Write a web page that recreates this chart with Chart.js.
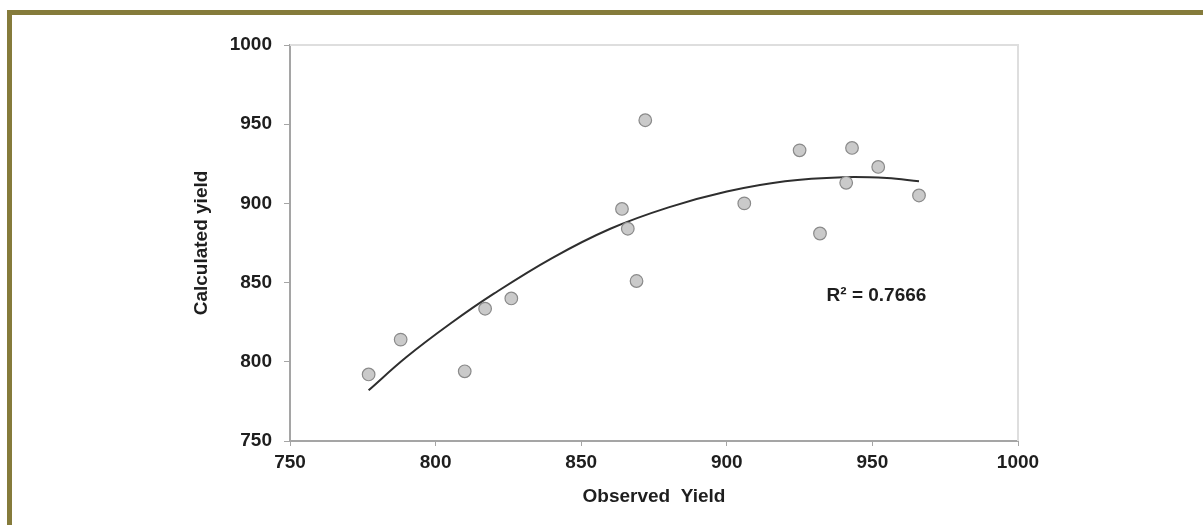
<!DOCTYPE html>
<html>
<head>
<meta charset="utf-8">
<script src="https://cdn.jsdelivr.net/npm/chart.js@4/dist/chart.umd.min.js"></script>
<style>
  html, body { margin: 0; padding: 0; background: #fff; }
  #wrap { position: relative; width: 1203px; height: 525px; overflow: hidden; }
  #frame {
    position: absolute; left: 7px; top: 10px; right: -10px; bottom: -10px;
    border-top: 5px solid #857b3b; border-left: 5px solid #857b3b;
  }
  canvas { position: absolute; left: 0; top: 0; }
</style>
</head>
<body>
<div id="wrap">
  <div id="frame"></div>
  <canvas id="grafico" width="1203" height="525"></canvas>
</div>
<script>
// observed vs calculated yield
const observado = [777, 788, 810, 817, 826, 864, 866, 869, 872, 906, 925, 932, 941, 943, 952, 966];
const calculado = [792, 814, 794, 833.5, 840, 896.5, 884, 851, 952.5, 900, 933.5, 881, 913, 935, 923, 905];

// polynomial trendline, sampled from the figure
const tendX = [777, 790, 805, 820, 840, 860, 880, 900, 920, 940, 955, 966];
const tendY = [782, 803, 824, 843, 865.5, 884, 897.5, 907.5, 914, 916.5, 916, 914];

const ticksEje = [750, 800, 850, 900, 950, 1000];
const etiquetaR2 = "R² = 0.7666";

const fuente = "'Liberation Sans', Arial, Helvetica, sans-serif";
const tinta = "#1e1e1e";

// light top/right border of the plot box + the R² text
const marco = {
  id: "marco",
  afterDraw(chart) {
    const { ctx, chartArea: a, scales } = chart;
    ctx.save();
    ctx.strokeStyle = "#dedede";
    ctx.lineWidth = 2;
    ctx.beginPath();
    ctx.moveTo(a.left, a.top);
    ctx.lineTo(a.right, a.top);
    ctx.lineTo(a.right, a.bottom);
    ctx.stroke();

    ctx.fillStyle = tinta;
    ctx.font = "bold 19px " + fuente;
    ctx.textAlign = "center";
    ctx.textBaseline = "middle";
    ctx.fillText(etiquetaR2, scales.x.getPixelForValue(951.4), scales.y.getPixelForValue(841.5));
    ctx.restore();
  },
};

const ctx = document.getElementById("grafico").getContext("2d");
new Chart(ctx, {
  type: "scatter",
  data: {
    datasets: [
      {
        label: "Tendencia",
        type: "line",
        data: tendX.map((x, i) => ({ x, y: tendY[i] })),
        borderColor: "#2e2e2e",
        borderWidth: 2,
        pointRadius: 0,
        fill: false,
        tension: 0.4,
        order: 2,
      },
      {
        label: "Datos",
        data: observado.map((x, i) => ({ x, y: calculado[i] })),
        backgroundColor: "#cacaca",
        borderColor: "#8a8a8a",
        borderWidth: 1.2,
        pointRadius: 6.3,
        order: 1,
      },
    ],
  },
  options: {
    responsive: false,
    animation: false,
    devicePixelRatio: 1,
    layout: { padding: { left: 190, right: 185, top: 45, bottom: 17 } },
    plugins: { legend: { display: false }, tooltip: { enabled: false } },
    scales: {
      x: {
        type: "linear",
        min: 750,
        max: 1000,
        afterBuildTicks: (s) => { s.ticks = ticksEje.map((v) => ({ value: v })); },
        afterFit: (s) => { s.height = 67; },
        border: { color: "#a5a5a5", width: 2 },
        grid: { display: true, drawOnChartArea: false, drawTicks: true, tickLength: 5, color: "#a5a5a5" },
        ticks: {
          color: tinta,
          padding: 5,
          font: { family: fuente, size: 19, weight: "bold" },
          callback: (v) => String(v),
        },
        title: {
          display: true,
          text: "Observed  Yield",
          color: tinta,
          padding: 0,
          font: { family: fuente, size: 19, weight: "bold" },
        },
      },
      y: {
        type: "linear",
        min: 750,
        max: 1000,
        afterBuildTicks: (s) => { s.ticks = ticksEje.map((v) => ({ value: v })); },
        afterFit: (s) => { s.width = 100; },
        border: { color: "#a5a5a5", width: 2 },
        grid: { display: true, drawOnChartArea: false, drawTicks: true, tickLength: 6, color: "#a5a5a5" },
        ticks: {
          color: tinta,
          padding: 12,
          font: { family: fuente, size: 19, weight: "bold" },
          callback: (v) => String(v),
        },
        title: {
          display: true,
          text: "Calculated yield",
          color: tinta,
          padding: 0,
          font: { family: fuente, size: 19, weight: "bold" },
        },
      },
    },
  },
  plugins: [marco],
});
</script>
</body>
</html>
